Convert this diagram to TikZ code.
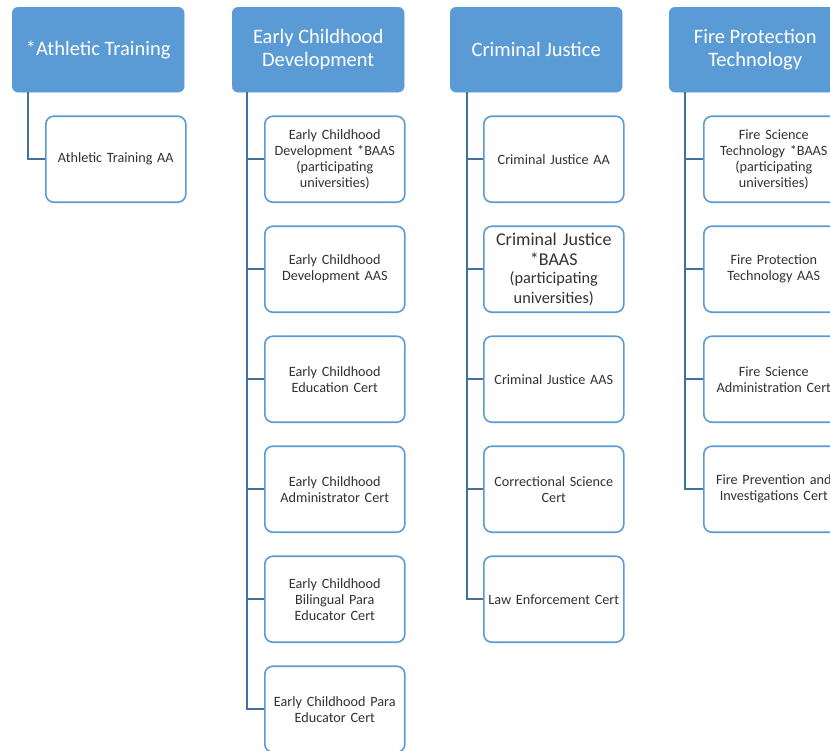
\documentclass[tikz,border=0pt]{standalone}
\usepackage{fontspec}
\setmainfont{Carlito}
\usetikzlibrary{positioning}

\definecolor{hdrblue}{RGB}{91,155,213}
\definecolor{linkblue}{RGB}{65,113,156}
\definecolor{subtext}{RGB}{50,50,50}

\begin{document}
\begin{tikzpicture}[
  x=1pt, y=-1pt,
  node distance=22.4pt,
  hdr/.style={fill=hdrblue, draw=hdrblue, rounded corners=6pt, text=white,
              font=\fontsize{20.5}{23}\selectfont, align=center,
              minimum width=172pt, minimum height=85pt, inner sep=2pt},
  sub/.style={draw=hdrblue, line width=1.6pt, fill=white, rounded corners=8pt,
              text=subtext, font=\fontsize{14.2}{16}\selectfont, align=center,
              minimum width=140pt, minimum height=86pt, inner sep=2pt,
              text width=134pt},
  link/.style={draw=linkblue, line width=1.8pt}
]
\clip (0,0) rectangle (830,750);

% ---------------- headers ----------------
\node[hdr, anchor=north west] (ath) at (12,7) {*Athletic Training};
\node[hdr, anchor=north west] (ecd) at (232,7) {Early Childhood\\Development};
\node[hdr, anchor=north west] (cj) at (450,7) {Criminal Justice};
\node[hdr, anchor=north west] (fpt) at (669,7) {Fire Protection\\Technology};

% ---------------- athletic training ----------------
\node[sub, below right=23pt and 33pt of ath.south west] (ath1) {Athletic Training AA};

% ---------------- early childhood ----------------
\node[sub, below right=23pt and 32pt of ecd.south west] (ecd1)
  {Early Childhood\\Development *BAAS\\(participating\\universities)};
\node[sub, below=of ecd1] (ecd2) {Early Childhood\\Development AAS};
\node[sub, below=of ecd2] (ecd3) {Early Childhood\\Education Cert};
\node[sub, below=of ecd3] (ecd4) {Early Childhood\\Administrator Cert};
\node[sub, below=of ecd4] (ecd5) {Early Childhood\\Bilingual Para\\Educator Cert};
\node[sub, below=of ecd5] (ecd6) {Early Childhood Para\\Educator Cert};

% ---------------- criminal justice ----------------
\node[sub, below right=23pt and 33pt of cj.south west] (cj1) {Criminal Justice AA};
\node[sub, below=of cj1, font=\fontsize{18}{20}\selectfont] (cj2)
  {Criminal Justice\\{*}BAAS\\{\fontsize{16.3}{17.5}\selectfont (participating\\universities)}};
\node[sub, below=of cj2] (cj3) {Criminal Justice AAS};
\node[sub, below=of cj3] (cj4) {Correctional Science\\Cert};
\node[sub, below=of cj4] (cj5) {Law Enforcement Cert};

% ---------------- fire protection ----------------
\node[sub, below right=23pt and 34pt of fpt.south west] (fpt1)
  {Fire Science\\Technology *BAAS\\(participating\\universities)};
\node[sub, below=of fpt1] (fpt2) {Fire Protection\\Technology AAS};
\node[sub, below=of fpt2] (fpt3) {Fire Science\\Administration Cert};
\node[sub, below=of fpt3] (fpt4) {Fire Prevention and\\Investigations Cert};

% ---------------- connectors ----------------
\draw[link] ([xshift=16pt]ath.south west) |- (ath1.west);
\foreach \i in {1,...,6}
  \draw[link] ([xshift=15pt]ecd.south west) |- (ecd\i.west);
\foreach \i in {1,...,5}
  \draw[link] ([xshift=17pt]cj.south west) |- (cj\i.west);
\foreach \i in {1,...,4}
  \draw[link] ([xshift=16pt]fpt.south west) |- (fpt\i.west);

\end{tikzpicture}
\end{document}
